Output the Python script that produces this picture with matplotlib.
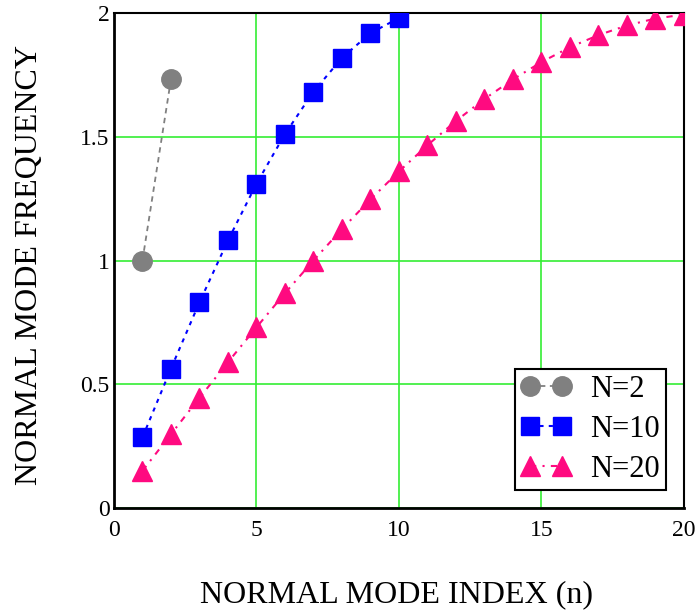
import matplotlib
matplotlib.use("Agg")
import matplotlib.pyplot as plt

# normal mode frequencies
n_2 = [1, 2]
w_2 = [1.000, 1.732]

n_10 = [1, 2, 3, 4, 5, 6, 7, 8, 9, 10]
w_10 = [0.285, 0.563, 0.831, 1.081, 1.310, 1.511, 1.682, 1.819, 1.919, 1.980]

n_20 = [1, 2, 3, 4, 5, 6, 7, 8, 9, 10, 11, 12, 13, 14, 15, 16, 17, 18, 19, 20]
w_20 = [0.150, 0.298, 0.445, 0.589, 0.730, 0.868, 1.000, 1.127, 1.247, 1.360,
        1.466, 1.564, 1.653, 1.732, 1.802, 1.862, 1.911, 1.950, 1.978, 1.994]

x_ticks = [0, 5, 10, 15, 20]
y_ticks = [0, 0.5, 1, 1.5, 2]
y_tick_labels = ['0', '0.5', '1', '1.5', '2']

plt.rcParams['font.family'] = ['Liberation Serif', 'DejaVu Serif']

fig = plt.figure(figsize=(6.99, 6.11), dpi=100)
ax = fig.add_axes([0.163, 0.1686, 0.8155, 0.81])

ax.plot(n_2, w_2, color='#808080', linestyle=(0, (3, 2.5)), linewidth=1.3,
        marker='o', markersize=14, label='N=2', zorder=3)
ax.plot(n_10, w_10, color='#0000ff', linestyle=(0, (2, 2.5)), linewidth=1.5,
        marker='s', markersize=12.5, label='N=10', zorder=3)
ax.plot(n_20, w_20, color='#ff0a80', linestyle=(0, (3, 3, 1, 3)), linewidth=1.5,
        marker='^', markersize=14, label='N=20', zorder=3)

ax.set_xlim(0, 20)
ax.set_ylim(0, 2)
ax.set_xticks(x_ticks)
ax.set_yticks(y_ticks)
ax.set_yticklabels(y_tick_labels)
ax.tick_params(axis='both', length=0, labelsize=17)
ax.tick_params(axis='x', pad=9)
ax.tick_params(axis='y', pad=3)

ax.grid(True, color='#33ee33', linewidth=1.2)
ax.set_axisbelow(True)
for side in ['left', 'bottom']:
    ax.spines[side].set_linewidth(2.0)
for side in ['top', 'right']:
    ax.spines[side].set_linewidth(1.5)

leg = ax.legend(loc='lower right', numpoints=2, fontsize=22, handlelength=1.65,
                handletextpad=0.6, labelspacing=0.35, borderpad=0.2,
                borderaxespad=0.6, fancybox=False, framealpha=1, edgecolor='black')
leg.get_frame().set_linewidth(1.5)

fig.text(397 / 699, 1 - 595 / 611, 'NORMAL MODE INDEX (n)', fontsize=23,
         ha='center', va='center')
fig.text(30 / 699, 1 - 265 / 611, 'NORMAL MODE FREQUENCY', fontsize=23,
         ha='center', va='center', rotation=90)

fig.savefig('out.png', dpi=100)
